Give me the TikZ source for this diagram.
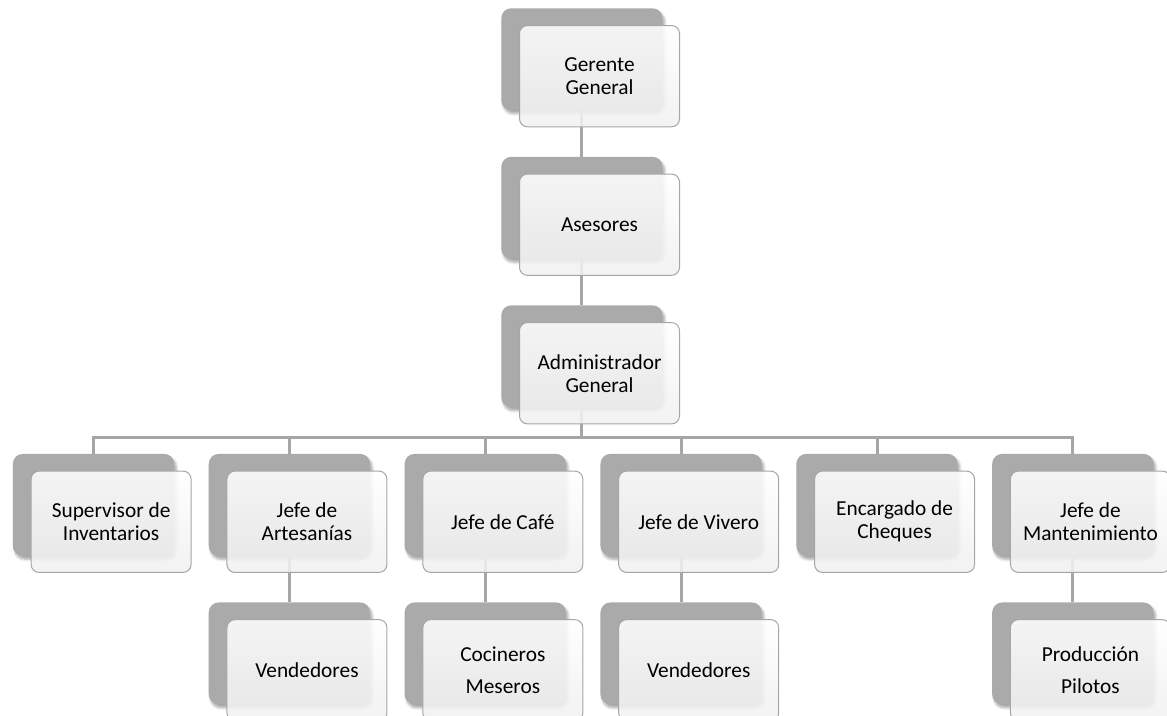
\documentclass[tikz,border=0pt]{standalone}
\usepackage{fontspec}
\setmainfont{Carlito}
\usetikzlibrary{positioning}
\usetikzlibrary{shadows.blur}

\definecolor{boxgray}{RGB}{170,170,170}
\definecolor{linegray}{RGB}{166,166,166}
\definecolor{frontbot}{RGB}{240,240,240}

\tikzset{
	back/.style={rectangle, rounded corners=7.5pt, fill=boxgray, inner sep=0pt,
		minimum width=121pt, minimum height=76.5pt,
		blur shadow={shadow xshift=1.5pt, shadow yshift=-2.5pt, shadow opacity=35, shadow blur steps=6}},
	front/.style={rectangle, rounded corners=6pt, draw=linegray, line width=0.75pt,
		top color=white, bottom color=frontbot, fill opacity=0.88, text opacity=1,
		minimum width=120pt, minimum height=76pt, inner sep=0pt, align=center,
		font=\fontsize{16}{17.25}\selectfont},
	link/.style={draw=linegray, line width=2.25pt},
}

\begin{document}
\begin{tikzpicture}[node distance=34.5pt and 25.5pt]
		\useasboundingbox (0,0) rectangle (875.25pt,-536.25pt);

		% gray boxes behind
		\node [back,anchor=north west] (gg) at (375.75pt,-6pt) {};
		\node [back,below=of gg] (as) {};
		\node [back,below=of as] (adm) {};
		\node [back,below=of adm,xshift=-72.5pt] (cafe) {};
		\node [back,left=of cafe] (art) {};
		\node [back,left=of art] (sup) {};
		\node [back,right=of cafe] (viv) {};
		\node [back,right=of viv] (cheq) {};
		\node [back,right=of cheq] (mant) {};
		\node [back,below=of art] (vend1) {};
		\node [back,below=of cafe] (coc) {};
		\node [back,below=of viv] (vend2) {};
		\node [back,below=of mant] (prod) {};

		\draw [link] (gg.south) -- (as.north);
		\draw [link] (as.south) -- (adm.north);
		\foreach \n in {sup,art,cafe,viv,cheq,mant}
			\draw [link] (adm.south) -- ++(0,-22.5pt) -| (\n.north);
		\draw [link] (art.south) -- (vend1.north);
		\draw [link] (cafe.south) -- (coc.north);
		\draw [link] (viv.south) -- (vend2.north);
		\draw [link] (mant.south) -- (prod.north);

		% white boxes with the texts
		\node [front,below right=12.75pt and 13.5pt of gg.north west] (ggt) {Gerente\\General};
		\node [front,below right=12.75pt and 13.5pt of as.north west] (ast) {Asesores};
		\node [front,below right=12.75pt and 13.5pt of adm.north west] (admt) {Administrador\\General};
		\node [front,below right=12.75pt and 13.5pt of sup.north west] (supt) {Supervisor de\\Inventarios};
		\node [front,below right=12.75pt and 13.5pt of art.north west] (artt) {Jefe de\\Artesanías};
		\node [front,below right=12.75pt and 13.5pt of cafe.north west] (cafet) {Jefe de Café};
		\node [front,below right=12.75pt and 13.5pt of viv.north west] (vivt) {Jefe de Vivero};
		\node [front,below right=12.75pt and 13.5pt of cheq.north west] (cheqt) {Encargado de\\Cheques};
		\node [front,below right=12.75pt and 13.5pt of mant.north west] (mantt) {Jefe de\\Mantenimiento};
		\node [front,below right=12.75pt and 13.5pt of vend1.north west] (vend1t) {Vendedores};
		\node [front,below right=12.75pt and 13.5pt of coc.north west] (coct) {Cocineros\\[6.75pt]Meseros};
		\node [front,below right=12.75pt and 13.5pt of vend2.north west] (vend2t) {Vendedores};
		\node [front,below right=12.75pt and 13.5pt of prod.north west] (prodt) {Producción\\[6.75pt]Pilotos};
	\end{tikzpicture}
\end{document}
